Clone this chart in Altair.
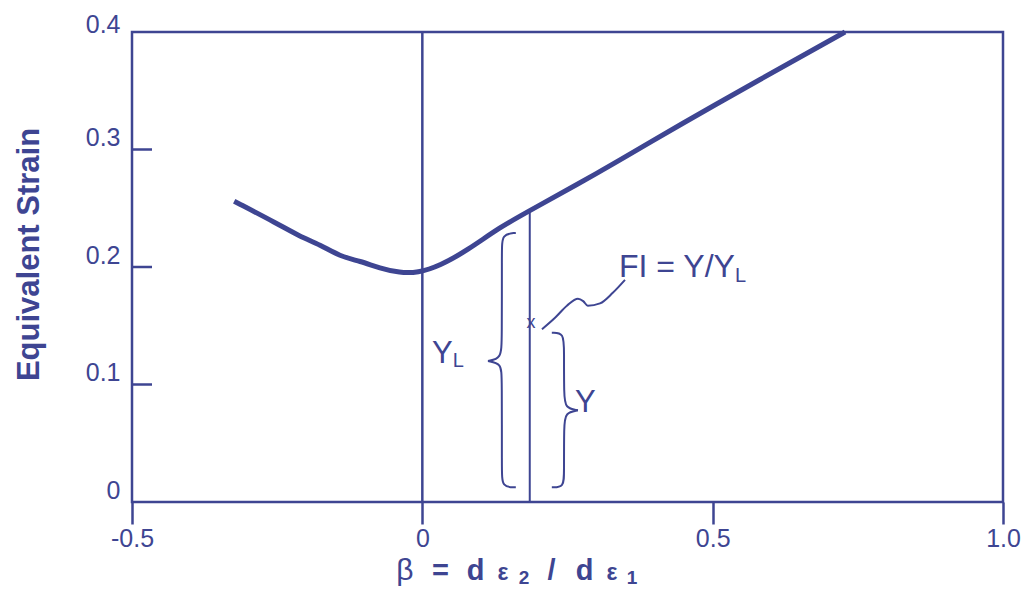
import altair as alt
import pandas as pd

NAVY = "#3E4592"
FONT = "Liberation Sans"

# ---- data ----
beta = [-0.324, -0.250, -0.211, -0.176, -0.142, -0.107, -0.073, -0.039, -0.008,
        0.030, 0.077, 0.134, 0.185, 0.306, 0.392, 0.478, 0.728]
strain = [0.256, 0.237, 0.226, 0.219, 0.209, 0.205, 0.199, 0.195, 0.195,
          0.201, 0.214, 0.234, 0.248, 0.281, 0.306, 0.331, 0.400]

x_ticks = [-0.5, 0.0, 0.5, 1.0]
y_ticks = [0.0, 0.1, 0.2, 0.3, 0.4]
inner_ticks = [0.1, 0.2, 0.3]
x_domain = [-0.5, 1.0]
y_domain = [0.0, 0.4]

beta_point = 0.185      # strain path considered
strain_limit = 0.248    # limit strain at that beta (Y_L)
strain_point = 0.148    # actual strain (Y)

# braces (data coordinates), two halves each
brace_yl_x = [0.161, 0.137, 0.137, 0.137, 0.136, 0.113,
              0.113, 0.136, 0.137, 0.137, 0.137, 0.161]
brace_yl_y = [0.229, 0.228, 0.214, 0.138, 0.122, 0.120,
              0.120, 0.118, 0.106, 0.027, 0.0125, 0.0125]
brace_y_x = [0.223, 0.244, 0.244, 0.244, 0.246, 0.268,
             0.268, 0.246, 0.244, 0.244, 0.244, 0.223]
brace_y_y = [0.144, 0.144, 0.129, 0.091, 0.080, 0.078,
             0.078, 0.076, 0.065, 0.025, 0.0125, 0.0125]
brace_seg = ["a"] * 6 + ["b"] * 6

leader_x = [0.206, 0.229, 0.249, 0.268, 0.277, 0.285, 0.306, 0.328, 0.349]
leader_y = [0.147, 0.157, 0.167, 0.173, 0.171, 0.167, 0.169, 0.178, 0.189]

# ---- scales / axes ----
xs = alt.Scale(domain=x_domain, nice=False, zero=False)
ys = alt.Scale(domain=y_domain, nice=False, zero=False)

x_axis = alt.Axis(
    values=x_ticks, title=None, grid=False, domain=False,
    tickSize=22, tickWidth=2.5, tickColor=NAVY,
    labelExpr="datum.value == 1 ? '1.0' : datum.value == -0.5 ? '-0.5' : datum.value == 0.5 ? '0.5' : '0'",
    labelFont=FONT, labelFontSize=25, labelColor=NAVY, labelPadding=2,
    labelFlush=False, labelOverlap=False, labelBound=False,
)
y_axis = alt.Axis(
    values=y_ticks, title="Equivalent Strain", grid=False, domain=False, ticks=False,
    labelExpr="datum.value == 0 ? '0' : format(datum.value, '.1f')",
    labelFont=FONT, labelFontSize=25, labelColor=NAVY, labelPadding=12,
    labelBaseline="alphabetic",
    labelOffset={"condition": {"test": "datum.value >= 0.35", "value": 0}, "value": -4},
    labelFlush=False, labelOverlap=False,
    titleFont=FONT, titleFontSize=31, titleFontWeight="bold", titleColor=NAVY,
    titleAngle=270, titleX=-94, titleY=222, titleAlign="center",
    titleBaseline="alphabetic",
)


def X(f):
    return alt.X(f, type="quantitative", scale=xs, axis=x_axis)


def Y(f):
    return alt.Y(f, type="quantitative", scale=ys, axis=y_axis)


curve_df = pd.DataFrame({"beta": beta, "strain": strain})
curve = alt.Chart(curve_df).mark_line(
    color=NAVY, strokeWidth=5, interpolate="basis", strokeCap="butt"
).encode(x=X("beta"), y=Y("strain"))

zero_line = alt.Chart(pd.DataFrame({"x": [0.0], "y0": [y_domain[0]], "y1": [y_domain[1]]})).mark_rule(
    color=NAVY, strokeWidth=2.5
).encode(x=X("x"), y=Y("y0"), y2="y1")

vline = alt.Chart(pd.DataFrame({"x": [beta_point], "y0": [0.0], "y1": [strain_limit]})).mark_rule(
    color=NAVY, strokeWidth=2
).encode(x=X("x"), y=Y("y0"), y2="y1")

ticks_in = alt.Chart(pd.DataFrame({"v": inner_ticks})).mark_rule(
    color=NAVY, strokeWidth=2.5
).encode(y=Y("v"), x=alt.value(0), x2=alt.value(20))

brace_df = pd.concat([
    pd.DataFrame({"x": brace_yl_x, "y": brace_yl_y, "seg": ["L" + s for s in brace_seg],
                  "ord": list(range(12))}),
    pd.DataFrame({"x": brace_y_x, "y": brace_y_y, "seg": ["R" + s for s in brace_seg],
                  "ord": list(range(12))}),
])
braces = alt.Chart(brace_df).mark_line(
    color=NAVY, strokeWidth=2, interpolate="basis"
).encode(x=X("x"), y=Y("y"), detail="seg:N", order="ord:Q")

leader = alt.Chart(pd.DataFrame({"x": leader_x, "y": leader_y})).mark_line(
    color=NAVY, strokeWidth=2, interpolate="monotone"
).encode(x=X("x"), y=Y("y"))


def text_layer(labels, xv, yv, size, weight="normal", align="left"):
    df = pd.DataFrame({"t": labels, "x": xv, "y": yv})
    return alt.Chart(df).mark_text(
        font=FONT, fontSize=size, fontWeight=weight, color=NAVY,
        align=align, baseline="alphabetic"
    ).encode(x=X("x"), y=Y("y"), text="t:N")


fi_label = text_layer(["FI = Y/Y"], [0.3387], [0.1912], 32)
big_labels = text_layer(["Y", "Y"], [0.0166, 0.2629], [0.118, 0.0763], 31)
sub_labels = text_layer(["L", "L"], [0.5385, 0.0525], [0.1870, 0.1146], 20)
x_mark = text_layer(["x"], [beta_point + 0.002], [strain_point], 18, align="center")

# x-axis title: β = d ε2 / d ε1
base_y = -0.0665
sub_y = -0.0700
t_beta = text_layer(["β"], [-0.0299], [base_y], 30, align="center")
t_ops = text_layer(["=", "d", "/", "d"], [0.0313, 0.0916, 0.2224, 0.2793],
                   [base_y] * 4, 29, weight="bold", align="center")
t_eps = text_layer(["ε", "ε"], [0.1389, 0.3266], [base_y] * 2, 23,
                   weight="bold", align="center")
t_sub = text_layer(["2", "1"], [0.1751, 0.3611], [sub_y] * 2, 19,
                   weight="bold", align="center")

chart = alt.layer(
    zero_line, vline, ticks_in, braces, leader, curve,
    fi_label, big_labels, sub_labels, x_mark, t_beta, t_ops, t_eps, t_sub
).properties(
    width=871, height=470,
    autosize=alt.AutoSizeParams(type="none"),
    padding={"left": 124, "top": 24, "right": 20, "bottom": 88},
).configure_view(
    stroke=NAVY, strokeWidth=2.5
).configure_axis(grid=False)

chart.save("out.html", embed_options={"renderer": "svg", "actions": False})
